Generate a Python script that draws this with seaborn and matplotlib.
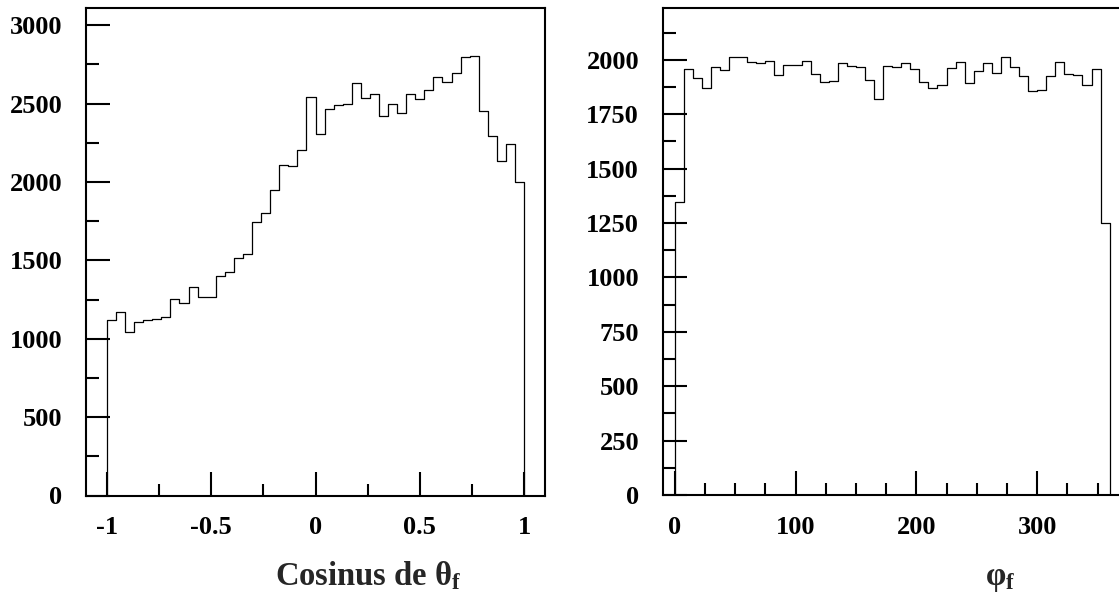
import numpy as np
import pandas as pd
import matplotlib
matplotlib.use("Agg")
import matplotlib.pyplot as plt
from matplotlib.ticker import MultipleLocator, FuncFormatter
import seaborn as sns

# counts per bin
cos_counts = [1117, 1171, 1041, 1105, 1117, 1126, 1139, 1254, 1231, 1328,
              1269, 1269, 1401, 1427, 1513, 1541, 1746, 1805, 1950, 2110,
              2105, 2201, 2544, 2308, 2465, 2493, 2499, 2633, 2535, 2559,
              2423, 2495, 2439, 2559, 2527, 2589, 2669, 2635, 2697, 2795,
              2801, 2455, 2295, 2137, 2244, 1997]
phi_counts = [1348, 1956, 1915, 1869, 1968, 1953, 2011, 2014, 1991, 1984,
              1997, 1932, 1976, 1977, 1993, 1935, 1898, 1903, 1984, 1973,
              1968, 1906, 1821, 1970, 1968, 1984, 1956, 1898, 1870, 1884,
              1962, 1988, 1892, 1950, 1984, 1938, 2011, 1967, 1927, 1858,
              1860, 1927, 1990, 1934, 1932, 1883, 1959, 1249]
cos_range = (-1, 1)
phi_range = (0, 360)

sns.set_theme(style="ticks")
plt.rcParams['font.family'] = ['Liberation Serif', 'DejaVu Serif']
plt.rcParams['font.weight'] = 'bold'
plt.rcParams['axes.unicode_minus'] = False
plt.rcParams['mathtext.fontset'] = 'custom'
plt.rcParams['mathtext.rm'] = 'Liberation Serif:bold'
plt.rcParams['mathtext.it'] = 'Liberation Serif:bold'
plt.rcParams['mathtext.bf'] = 'Liberation Serif:bold'


def hist_frame(counts, lo, hi):
    '''
    Bin centres and counts as a frame
    '''
    edges = np.linspace(lo, hi, len(counts) + 1)
    centers = (edges[:-1] + edges[1:]) / 2
    return pd.DataFrame({'x': centers, 'n': counts})


def draw_panel(ax, counts, rng, xlim, ylim, xmaj, xmin, ymaj, ymin):
    df = hist_frame(counts, *rng)
    sns.histplot(data=df, x='x', weights='n', bins=len(counts), binrange=rng,
                 element='step', fill=True, color='black', facecolor='none',
                 edgecolor='black', linewidth=0.9, ax=ax)
    ax.set_xlim(*xlim)
    ax.set_ylim(*ylim)
    ax.set_ylabel('')
    ax.xaxis.set_major_locator(MultipleLocator(xmaj))
    ax.xaxis.set_minor_locator(MultipleLocator(xmin))
    ax.yaxis.set_major_locator(MultipleLocator(ymaj))
    ax.yaxis.set_minor_locator(MultipleLocator(ymin))
    ax.xaxis.set_major_formatter(FuncFormatter(lambda v, p: f'{v:g}'))
    ax.yaxis.set_major_formatter(FuncFormatter(lambda v, p: f'{v:g}'))
    ax.tick_params(which='both', direction='in', width=1.5, colors='black',
                   top=False, right=False, labelsize=19)
    ax.tick_params(which='major', length=17)
    ax.tick_params(which='minor', length=9)
    ax.tick_params(axis='x', which='major', pad=15)
    ax.tick_params(axis='y', which='major', pad=17)
    for s in ax.spines.values():
        s.set_visible(True)
        s.set_linewidth(1.5)
        s.set_color('black')


fig = plt.figure(figsize=(11.19, 5.94), dpi=100)
ax1 = fig.add_axes([86 / 1119, 98.5 / 594, 459 / 1119, 487.5 / 594])
ax2 = fig.add_axes([662.7 / 1119, 99 / 594, 459 / 1119, 486.7 / 594])

draw_panel(ax1, cos_counts, cos_range, (-1.1, 1.1), (0, 3110), 0.5, 0.25, 500, 250)
draw_panel(ax2, phi_counts, phi_range, (-10, 370), (0, 2237), 100, 25, 250, 125)

ax1.set_xlabel(r'Cosinus de $\theta_f$', fontsize=23.5, fontweight='bold')
ax1.xaxis.set_label_coords(0.615, -0.132)
ax2.set_xlabel(r'$\varphi_f$', fontsize=23.5, fontweight='bold')
ax2.xaxis.set_label_coords(0.735, -0.14)
for ax in (ax1, ax2):
    ax.xaxis.label.set_verticalalignment('top')

fig.savefig('out.png', dpi=100)
